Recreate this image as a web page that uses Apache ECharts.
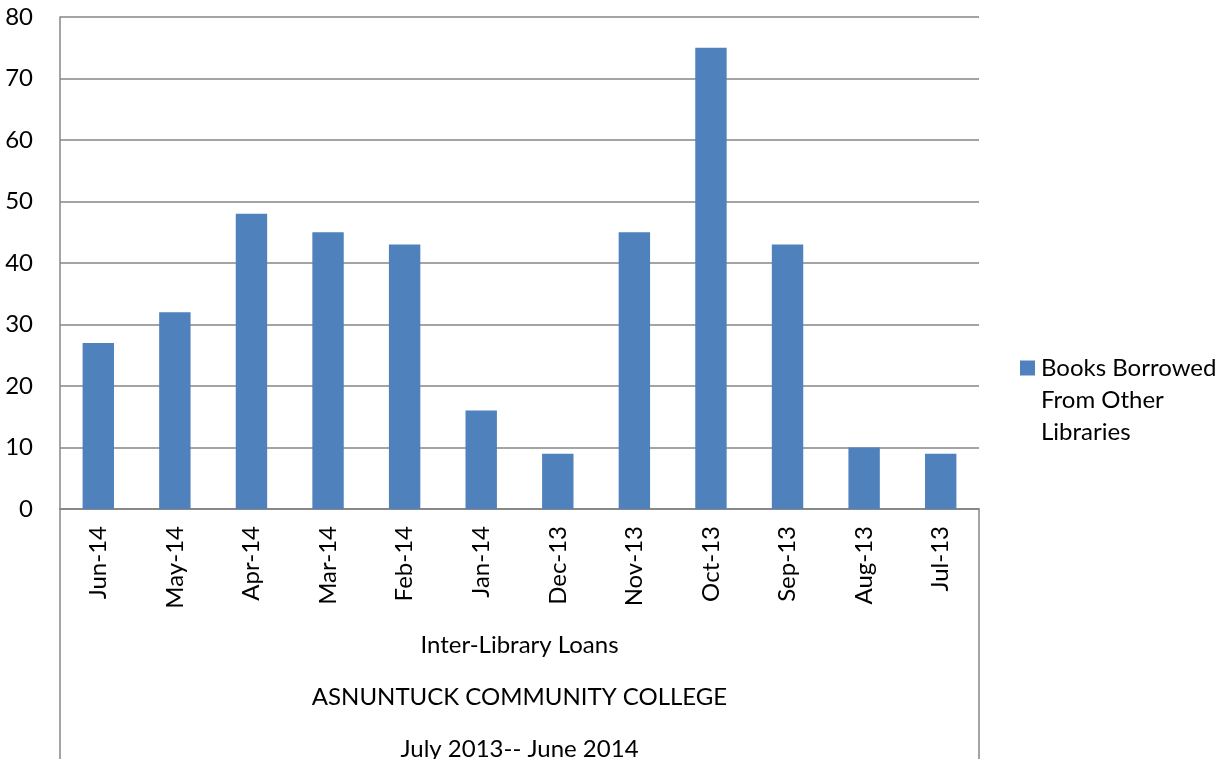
<!DOCTYPE html>
<html>
<head>
<meta charset="utf-8">
<script src="https://cdn.jsdelivr.net/npm/echarts@6/dist/echarts.min.js"></script>
<style>html,body{margin:0;padding:0;background:#fff;overflow:hidden}#c{width:1225px;height:759px}</style>
</head>
<body>
<div id="c"></div>
<script>
const categories = ['Jun-14','May-14','Apr-14','Mar-14','Feb-14','Jan-14','Dec-13','Nov-13','Oct-13','Sep-13','Aug-13','Jul-13'];
const booksBorrowed = [27, 32, 48, 45, 43, 16, 9, 45, 75, 43, 10, 9];
const outerLabelLines = ['Inter-Library Loans', 'ASNUNTUCK COMMUNITY COLLEGE', 'July 2013-- June 2014'];
const seriesName = 'Books Borrowed From Other Libraries';
const legendLines = ['Books Borrowed', 'From Other', 'Libraries'];
const yTicks = {min: 0, max: 80, interval: 10};

const FONT = 'Lato, "Open Sans", sans-serif';
const GRAY = '#868686';
const BLUE = '#4F81BD';
const FS = 24;
const chart = echarts.init(document.getElementById('c'), null, {renderer: 'canvas', width: 1225, height: 759});
chart.setOption({
  animation: false,
  backgroundColor: '#fff',
  textStyle: {fontFamily: FONT},
  grid: [
    {left: 60, width: 919, top: 17, height: 492, containLabel: false, outerBoundsMode: 'none'},
    {left: 60, width: 919, top: 509, height: 260, show: true, borderColor: GRAY, borderWidth: 1.5, backgroundColor: 'transparent', outerBoundsMode: 'none'}
  ],
  legend: {
    data: [seriesName],
    left: 1010, top: 347,
    orient: 'vertical',
    itemWidth: 0, itemHeight: 0,
    formatter: () => '{sq| }{g| }{t|' + legendLines[0] + '}\n' +
      legendLines.slice(1).map(l => '{p| }{t|' + l + '}').join('\n'),
    textStyle: {
      fontFamily: FONT, fontSize: FS, color: '#000', lineHeight: 32,
      rich: {
        sq: {width: 15, height: 15, backgroundColor: BLUE, lineHeight: 32},
        g: {width: 6, lineHeight: 32},
        p: {width: 21, lineHeight: 32},
        t: {fontFamily: FONT, fontSize: FS, color: '#000', lineHeight: 32}
      }
    }
  },
  xAxis: [
    {
      type: 'category', gridIndex: 0, data: categories,
      axisLine: {lineStyle: {color: GRAY, width: 1.5}},
      axisTick: {show: false},
      axisLabel: {rotate: 90, margin: 17, fontSize: FS, color: '#000', fontFamily: FONT, interval: 0}
    },
    {
      type: 'category', gridIndex: 0, position: 'bottom', offset: 110,
      data: [outerLabelLines.join('\n')],
      axisLine: {show: false}, axisTick: {show: false},
      axisLabel: {margin: 0, fontSize: FS, lineHeight: 52, color: '#000', fontFamily: FONT, verticalAlign: 'top'}
    },
    {
      type: 'category', gridIndex: 1, data: [''], show: false
    }
  ],
  yAxis: [
    {
      type: 'value', gridIndex: 0, min: yTicks.min, max: yTicks.max, interval: yTicks.interval,
      axisLine: {show: true, lineStyle: {color: GRAY, width: 1.5}},
      axisTick: {show: false},
      splitLine: {lineStyle: {color: GRAY, width: 1.5}},
      axisLabel: {margin: 27, fontSize: FS, color: '#000', fontFamily: FONT}
    },
    {type: 'value', gridIndex: 1, show: false}
  ],
  series: [
    {
      name: seriesName, type: 'bar', xAxisIndex: 0, yAxisIndex: 0,
      data: booksBorrowed,
      barCategoryGap: '59%',
      itemStyle: {color: BLUE}
    }
  ]
});
</script>
</body>
</html>
